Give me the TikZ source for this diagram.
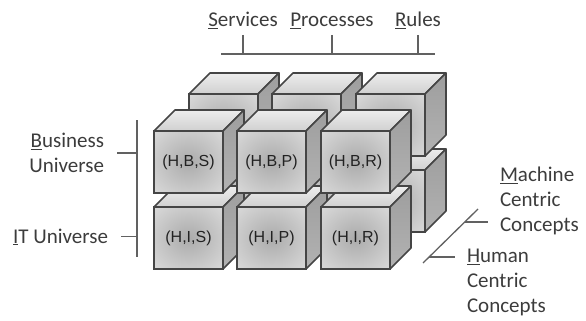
\documentclass[tikz,border=0pt]{standalone}
\usepackage{fontspec}
\setmainfont{Carlito}
\newfontfamily\cubefont{Liberation Sans}
\usetikzlibrary{calc}
\definecolor{cubeline}{HTML}{454545}
\definecolor{labelgray}{HTML}{3C3C3C}
\definecolor{cubetext}{HTML}{222222}
\definecolor{facemid}{HTML}{ABABAB}
\definecolor{faceedge}{HTML}{E6E6E6}
\definecolor{topback}{HTML}{EDEDED}
\definecolor{topfront}{HTML}{D0D0D0}
\definecolor{sidetop}{HTML}{9E9E9E}
\definecolor{sidebot}{HTML}{B2B2B2}
\pgfdeclareradialshading{facesh}{\pgfpoint{0bp}{0bp}}{color(0bp)=(facemid); color(45bp)=(faceedge); color(50bp)=(faceedge)}

\tikzset{
  face/.style={draw=cubeline, line width=1.6pt, shade, shading=facesh,
    minimum width=69pt, minimum height=62pt, inner sep=0pt, outer sep=0pt,
    anchor=north west, text=cubetext, font=\cubefont\fontsize{16}{18}\selectfont},
  topface/.style={draw=cubeline, line width=1.6pt, line join=round,
    top color=topback, bottom color=topfront},
  sideface/.style={draw=cubeline, line width=1.6pt, line join=round,
    top color=sidetop, bottom color=sidebot},
  lbl/.style={font=\fontsize{21}{25}\selectfont, text=labelgray, inner sep=0pt},
  bracket/.style={draw=cubeline!85, line width=1.3pt},
}

% one cube: name, x, y of the front face's top left corner, text
\newcommand{\drawcube}[4]{%
  \node[face] (#1) at (#2,#3) {#4};
  \path[topface] (#1.north west) -- ++(21,-21) -- ++(69,0) -- (#1.north east) -- cycle;
  \path[sideface] (#1.north east) -- ++(21,-21) -- ++(0,62) -- (#1.south east) -- cycle;
}

\begin{document}
\begin{tikzpicture}[x=1pt,y=-1pt]
\useasboundingbox (0,0) rectangle (586,321);

% machine centric layer (back)
\foreach \r/\ry in {i/207, b/131}
  \foreach \c/\cx in {s/154, p/237, r/321}
    \drawcube{m\r\c}{\cx+35}{\ry-37}{};

% human centric layer (front)
\foreach \r/\ry/\R in {i/207/I, b/131/B}
  \foreach \c/\cx/\C in {s/154/S, p/237/P, r/321/R}
    \drawcube{h\r\c}{\cx}{\ry}{(H,\R,\C)};

% top axis
\node[lbl, anchor=base] (serv) at (243,27) {\underline{S}ervices};
\node[lbl, anchor=base] (proc) at (332,27) {\underline{P}rocesses};
\node[lbl, anchor=base] (rule) at (418,27) {\underline{R}ules};
\coordinate (barw) at (221,54);
\coordinate (bare) at (435,54);
\draw[bracket] (barw) -- (bare);
\foreach \n in {serv,proc,rule}
  \draw[bracket] ([yshift=-8pt]\n.base) -- (\n.base |- barw);

% left axis
\node[lbl, align=right, anchor=north east, outer xsep=13pt] (bus) at (117,133) {\underline{B}usiness\\Universe};
\node[lbl, anchor=base east, outer xsep=13pt] (itu) at (121,243) {\underline{I}T Universe};
\coordinate (vt) at (137,120);
\coordinate (vb) at (137,257);
\draw[bracket] (vt) -- (vb);
\draw[bracket] (bus.east) -- (bus.east -| vt);
\draw[bracket] (itu.east) -- (itu.east -| vt);

% depth axis
\coordinate (dlo) at (423,263);
\coordinate (dhi) at (478,209);
\draw[bracket] (dlo) -- (dhi);
\node[lbl, align=left, anchor=north west, outer xsep=12pt] (mcc) at (488,167) {\underline{M}achine\\Centric\\Concepts};
\node[lbl, align=left, anchor=north west, outer xsep=12pt] (hcc) at (455,249) {\underline{H}uman\\Centric\\Concepts};
\coordinate (mk) at ($(dlo)!0.76!(dhi)$);
\coordinate (hk) at ($(dlo)!0.11!(dhi)$);
\draw[bracket] (mk) -- (mk -| mcc.west);
\draw[bracket] (hk) -- (hk -| hcc.west);
\end{tikzpicture}
\end{document}
